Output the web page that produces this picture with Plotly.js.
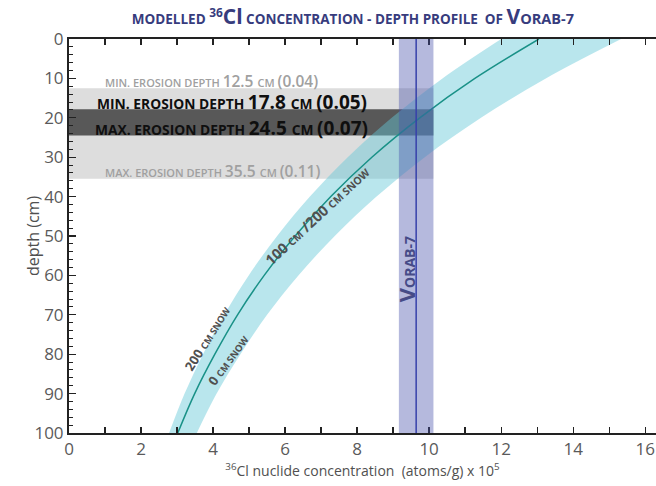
<!DOCTYPE html>
<html>
<head>
<meta charset="utf-8">
<script src="https://cdn.plot.ly/plotly-3.0.1.min.js"></script>
<style>html,body{margin:0;padding:0;background:#fff;}#chart{width:656px;height:486px;}</style>
</head>
<body>
<div id="chart"></div>
<script>
// depth (cm)
const depth = [0, 10, 20, 30, 40, 50, 60, 70, 80, 90, 100];
// modelled 36Cl concentration (x10^5 atoms/g), 100 cm / 200 cm snow (central line)
const concCentral = [13.05, 11.27, 9.74, 8.41, 7.27, 6.28, 5.42, 4.68, 4.05, 3.49, 3.02];
// 200 cm snow (low edge of envelope)
const concSnow200 = [12.0, 10.37, 8.96, 7.74, 6.69, 5.78, 4.99, 4.31, 3.72, 3.21, 2.78];
// 0 cm snow (high edge of envelope)
const concSnow0 = [15.33, 13.24, 11.44, 9.88, 8.54, 7.38, 6.37, 5.50, 4.76, 4.10, 3.55];
// measured sample
const sampleName = "Vorab-7";
const sampleConc = 9.64;
const sampleErr = 0.48;
// erosion depths (cm): outer min/max and inner min/max
const outerErosion = [12.5, 35.5];
const innerErosion = [17.8, 24.5];
const outerRates = ["0.04", "0.11"];
const innerRates = ["0.05", "0.07"];
const xTickVals = [0,1,2,3,4,5,6,7,8,9,10,11,12,13,14,15,16];
const xTickText = ["0","","2","","4","","6","","8","","10","","12","","14","","16"];

const FONT = "Open Sans, Noto Sans, sans-serif";
const sc = (t, s) => `<span style="font-size:${s}px">${t}</span>`;

const traces = [
  {x: concSnow200, y: depth, type: "scatter", mode: "lines",
   line: {width: 0, shape: "spline", color: "rgba(0,0,0,0)"}, hoverinfo: "skip"},
  {x: concSnow0, y: depth, type: "scatter", mode: "lines", fill: "tonextx",
   fillcolor: "rgba(100,200,215,0.45)", line: {width: 0, shape: "spline", color: "rgba(0,0,0,0)"}, hoverinfo: "skip"},
  {x: concCentral, y: depth, type: "scatter", mode: "lines",
   line: {color: "rgb(25,145,135)", width: 1.5, shape: "spline"}, hoverinfo: "skip"}
];

const bandRight = sampleConc + sampleErr;
const shapes = [
  {type: "rect", xref: "x", yref: "y", x0: 0, x1: bandRight, y0: outerErosion[0], y1: outerErosion[1],
   fillcolor: "rgb(221,221,221)", line: {width: 0}, layer: "below"},
  {type: "rect", xref: "x", yref: "y", x0: 0, x1: bandRight, y0: innerErosion[0], y1: innerErosion[1],
   fillcolor: "rgb(88,88,88)", line: {width: 0}, layer: "below"},
  {type: "rect", xref: "x", yref: "y", x0: sampleConc - sampleErr, x1: bandRight, y0: 0, y1: 100,
   fillcolor: "rgba(70,80,170,0.4)", line: {width: 0}, layer: "above"},
  {type: "line", xref: "x", yref: "y", x0: sampleConc, x1: sampleConc, y0: 0, y1: 100,
   line: {color: "rgb(55,65,170)", width: 1.5}, layer: "above"}
];

function erosionText(kind, d, rate, s1, s2) {
  return sc(kind + ". EROSION DEPTH ", s1) + sc(d.toFixed(1) + " ", s2) + sc("CM ", s1) + sc("(" + rate + ")", s2);
}

const annotations = [
  {x: 0.94, y: 10.6, xref: "x", yref: "y", xanchor: "left", yanchor: "middle", showarrow: false,
   text: erosionText("MIN", outerErosion[0], outerRates[0], 11, 15.5),
   font: {family: FONT, color: "rgb(160,160,160)", weight: 600}},
  {x: 0.72, y: 15.9, xref: "x", yref: "y", xanchor: "left", yanchor: "middle", showarrow: false,
   text: erosionText("MIN", innerErosion[0], innerRates[0], 13.8, 19),
   font: {family: FONT, color: "rgb(15,15,15)", weight: 700}},
  {x: 0.67, y: 22.7, xref: "x", yref: "y", xanchor: "left", yanchor: "middle", showarrow: false,
   text: erosionText("MAX", innerErosion[1], innerRates[1], 13.8, 19),
   font: {family: FONT, color: "rgb(15,15,15)", weight: 700}},
  {x: 0.94, y: 33.6, xref: "x", yref: "y", xanchor: "left", yanchor: "middle", showarrow: false,
   text: erosionText("MAX", outerErosion[1], outerRates[1], 11, 15.5),
   font: {family: FONT, color: "rgb(160,160,160)", weight: 600}},
  {x: 9.38, y: 58.5, xref: "x", yref: "y", xanchor: "center", yanchor: "middle", showarrow: false, textangle: -90,
   text: sc("V", 22) + sc(sampleName.slice(1).toUpperCase(), 14),
   font: {family: FONT, color: "rgb(70,75,135)", weight: 700}},
  {x: 6.9, y: 44.8, xref: "x", yref: "y", showarrow: false, textangle: -43,
   text: sc("100 ", 14.5) + sc("CM", 10.5) + sc(" /200 ", 14.5) + sc("CM SNOW", 10.5),
   font: {family: FONT, color: "rgb(80,80,80)", weight: 700}},
  {x: 3.85, y: 76, xref: "x", yref: "y", showarrow: false, textangle: -58,
   text: sc("200 ", 13) + sc("CM SNOW", 9.5),
   font: {family: FONT, color: "rgb(80,80,80)", weight: 700}},
  {x: 4.42, y: 81.5, xref: "x", yref: "y", showarrow: false, textangle: -54,
   text: sc("0 ", 13) + sc("CM SNOW", 9.5),
   font: {family: FONT, color: "rgb(80,80,80)", weight: 700}},
  {x: -36 / 587, y: 0.5, xref: "paper", yref: "paper", xanchor: "center", yanchor: "middle", showarrow: false, textangle: -90,
   text: "depth (cm)", font: {family: FONT, size: 16, color: "rgb(80,80,80)"}}
];

const layout = {
  width: 656, height: 486,
  margin: {l: 69, r: 0, t: 39, b: 53},
  paper_bgcolor: "#fff", plot_bgcolor: "#fff",
  showlegend: false,
  font: {family: FONT, color: "rgb(90,90,90)"},
  title: {
    text: sc("MODELLED ", 13.5) + "<sup>36</sup>" + sc("Cl", 21) + sc(" CONCENTRATION - DEPTH PROFILE  OF ", 13.5) + sc("V", 21) + sc("ORAB-7", 14.5),
    font: {family: FONT, color: "rgb(55,60,125)", weight: 700},
    xref: "container", x: 0.538, xanchor: "center", yref: "container", y: 0.962, yanchor: "middle"
  },
  xaxis: {
    range: [0, 16.3], tickvals: xTickVals, ticktext: xTickText,
    ticks: "inside", ticklen: 6, tickwidth: 1.3, tickcolor: "#222",
    showline: true, linecolor: "#222", linewidth: 2, mirror: "ticks",
    showgrid: false, zeroline: false,
    tickfont: {size: 17, color: "rgb(90,90,90)"},
    title: {text: "<sup>36</sup>Cl nuclide concentration  (atoms/g) x 10<sup>5</sup>", font: {size: 14, color: "rgb(80,80,80)"}, standoff: 6}
  },
  yaxis: {
    range: [100, 0], dtick: 10, tick0: 0,
    ticks: "inside", ticklen: 7, tickwidth: 1.3, tickcolor: "#222",
    minor: {dtick: 2, ticks: "inside", ticklen: 4, tickwidth: 1, tickcolor: "#222"},
    showline: true, linecolor: "#222", linewidth: 2, mirror: false,
    showgrid: false, zeroline: false,
    tickfont: {size: 17, color: "rgb(90,90,90)"}
  },
  shapes: shapes,
  annotations: annotations
};

Plotly.newPlot("chart", traces, layout, {displayModeBar: false, staticPlot: true});
</script>
</body>
</html>
